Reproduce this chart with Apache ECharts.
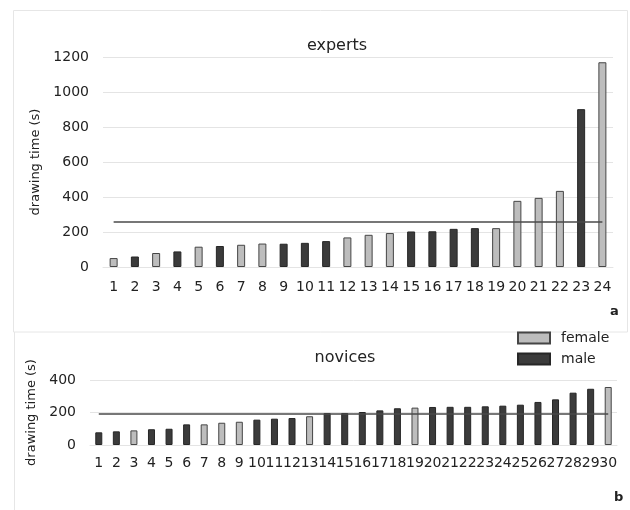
<!DOCTYPE html>
<html>
<head>
<meta charset="utf-8">
<script src="https://cdn.jsdelivr.net/npm/echarts@6/dist/echarts.min.js"></script>
<style>
  html, body { margin: 0; padding: 0; background: #fff; }
  #chart { width: 630px; height: 510px; }
</style>
</head>
<body>
<div id="chart"></div>
<script>
// Drawing times (seconds) per participant, sorted ascending, with gender.
const expertLabels = ['1','2','3','4','5','6','7','8','9','10','11','12','13','14','15','16','17','18','19','20','21','22','23','24'];
const expertTimes  = [51, 60, 80, 89, 116, 120, 127, 134, 133, 138, 148, 169, 184, 194, 203, 204, 218, 222, 222, 378, 395, 435, 902, 1170];
const expertGender = ['f','m','f','m','f','m','f','f','m','m','m','f','f','f','m','m','m','m','f','f','f','f','m','f'];
const expertMean = 256;

const noviceLabels = ['1','2','3','4','5','6','7','8','9','10','11','12','13','14','15','16','17','18','19','20','21','22','23','24','25','26','27','28','29','30'];
const noviceTimes  = [78, 84, 90, 97, 100, 127, 127, 137, 143, 156, 162, 166, 177, 197, 197, 203, 213, 226, 230, 234, 235, 235, 238, 242, 248, 265, 281, 322, 346, 357];
const noviceGender = ['m','m','f','m','m','m','f','f','f','m','m','m','f','m','m','m','m','m','f','m','m','m','m','m','m','m','m','m','m','f'];
const noviceMean = 195;

const yTicksExperts = { min: 0, max: 1200, interval: 200 };
const yTicksNovices = { min: 0, max: 400, interval: 200 };

const FONT = 'DejaVu Sans';
const TEXT = '#222';
const GRID_LINE = '#e4e4e4';
const femaleStyle = { color: '#bdbdbd', borderColor: '#454545', borderWidth: 1 };
const maleStyle = { color: '#3b3b3b', borderColor: '#262626', borderWidth: 1 };

function pick(times, gender, g) {
  return times.map((v, i) => gender[i] === g ? v : '-');
}

function xAxis(idx, labels, margin) {
  return {
    type: 'category', gridIndex: idx, data: labels,
    axisLine: { show: true, lineStyle: { color: GRID_LINE, width: 1 } },
    axisTick: { show: false },
    axisLabel: { color: TEXT, fontFamily: FONT, fontSize: 14, margin: margin, interval: 0 }
  };
}

function yAxis(idx, ticks, nameGap) {
  return {
    type: 'value', gridIndex: idx, min: ticks.min, max: ticks.max, interval: ticks.interval,
    name: 'drawing time (s)', nameLocation: 'middle', nameGap: nameGap,
    nameTextStyle: { color: TEXT, fontFamily: FONT, fontSize: 13 },
    axisLine: { show: false }, axisTick: { show: false },
    axisLabel: { color: TEXT, fontFamily: FONT, fontSize: 14, margin: 14, formatter: v => String(v) },
    splitLine: { lineStyle: { color: GRID_LINE, width: 1 } }
  };
}

function meanLine(labels, value) {
  return {
    silent: true, symbol: 'none', label: { show: false },
    lineStyle: { color: '#4a4a4a', width: 1.5, type: 'solid' },
    data: [[{ coord: [labels[0], value] }, { coord: [labels[labels.length - 1], value] }]]
  };
}

const chart = echarts.init(document.getElementById('chart'), null, { renderer: 'canvas' });

chart.setOption({
  animation: false,
  backgroundColor: '#fff',
  title: [
    { text: 'experts', left: 332, top: 33, textAlign: 'center',
      textStyle: { fontFamily: FONT, fontSize: 16, fontWeight: 'normal', color: TEXT } },
    { text: 'novices', left: 340, top: 345, textAlign: 'center',
      textStyle: { fontFamily: FONT, fontSize: 16, fontWeight: 'normal', color: TEXT } },
    { text: 'a', left: 605, top: 300,
      textStyle: { fontFamily: FONT, fontSize: 13, fontWeight: 'bold', color: TEXT } },
    { text: 'b', left: 609, top: 486,
      textStyle: { fontFamily: FONT, fontSize: 13, fontWeight: 'bold', color: TEXT } }
  ],
  legend: {
    data: ['female', 'male'], orient: 'vertical', left: 517, top: 331, padding: 0,
    icon: 'rect', itemWidth: 32, itemHeight: 11, itemGap: 7,
    textStyle: { fontFamily: FONT, fontSize: 14, color: TEXT, padding: [0, 0, 0, 6] }
  },
  grid: [
    { left: 103, right: 17, top: 57, height: 210 },
    { left: 90, right: 13, top: 380, height: 65 }
  ],
  xAxis: [xAxis(0, expertLabels, 13), xAxis(1, noviceLabels, 11)],
  yAxis: [yAxis(0, yTicksExperts, 53), yAxis(1, yTicksNovices, 46)],
  graphic: [
    { type: 'rect', silent: true, z: -1,
      shape: { x: 13.5, y: 10.5, width: 614, height: 321.5 },
      style: { fill: 'none', stroke: '#e6e6e6', lineWidth: 1 } },
    { type: 'line', silent: true, z: -1,
      shape: { x1: 14.5, y1: 332, x2: 14.5, y2: 510 },
      style: { stroke: '#e6e6e6', lineWidth: 1 } }
  ],
  series: [
    { name: 'female', type: 'bar', xAxisIndex: 0, yAxisIndex: 0, barWidth: 8, barGap: '-100%',
      itemStyle: femaleStyle, data: pick(expertTimes, expertGender, 'f'),
      markLine: meanLine(expertLabels, expertMean) },
    { name: 'male', type: 'bar', xAxisIndex: 0, yAxisIndex: 0, barWidth: 8, barGap: '-100%',
      itemStyle: maleStyle, data: pick(expertTimes, expertGender, 'm') },
    { name: 'female', type: 'bar', xAxisIndex: 1, yAxisIndex: 1, barWidth: 7, barGap: '-100%',
      itemStyle: femaleStyle, data: pick(noviceTimes, noviceGender, 'f'),
      markLine: meanLine(noviceLabels, noviceMean) },
    { name: 'male', type: 'bar', xAxisIndex: 1, yAxisIndex: 1, barWidth: 7, barGap: '-100%',
      itemStyle: maleStyle, data: pick(noviceTimes, noviceGender, 'm') }
  ]
});
</script>
</body>
</html>
